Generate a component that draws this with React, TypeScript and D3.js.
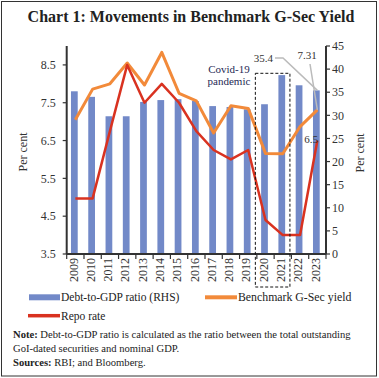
import React from "react";
import * as d3 from "d3";

const years = ["2009","2010","2011","2012","2013","2014","2015","2016","2017","2018","2019","2020","2021","2022","2023"];
const debtToGdp = [35.2, 34.0, 29.8, 29.8, 32.9, 33.3, 33.5, 33.1, 32.0, 31.8, 31.3, 32.4, 38.7, 36.5, 35.4];
const gsecYield = [7.05, 7.86, 8.0, 8.55, 7.97, 8.83, 7.75, 7.55, 6.7, 7.42, 7.35, 6.16, 6.15, 6.87, 7.31];
const repoRate = [4.97, 4.97, 6.75, 8.5, 7.5, 8.0, 7.5, 6.75, 6.25, 6.0, 6.25, 4.4, 4.0, 4.0, 6.5];
const leftTicks = [3.5, 4.5, 5.5, 6.5, 7.5, 8.5];
const rightTicks = [0, 5, 10, 15, 20, 25, 30, 35, 40, 45];

const W = 379, H = 378;
const X0 = 66.7, X1 = 326, YT = 46, YB = 254;
const FONT = "'Liberation Serif', 'Times New Roman', serif";
const BLUE = "#7289c8", ORANGE = "#f28a3a", RED = "#d93220", AX = "#333";

export default function App() {
  const x = d3.scalePoint<string>().domain(years).range([X0, X1]).padding(0.5);
  const step = x.step();
  const yL = d3.scaleLinear().domain([3.5, 9]).range([YB, YT]);
  const yR = d3.scaleLinear().domain([0, 45]).range([YB, YT]);
  const lineL = d3.line<number>().x((_, i) => x(years[i])!).y(d => yL(d));
  const barW = step * 0.39;
  const last = years.length - 1;
  const cxLast = x(years[last])!;
  const bx0 = x("2020")! - step / 2 - 1.5;
  const bx1 = x("2021")! + step / 2 - 1.5;

  return (
    <svg width={W} height={H} style={{ position: "absolute", left: 0, top: 0, background: "#fff" }} fontFamily={FONT}>
      <rect x={1.5} y={1.5} width={375} height={374.5} fill="#fff" stroke={AX} strokeWidth={1} />
      <text x={191} y={22} textAnchor="middle" fontWeight="bold" fontSize={16} fill="#222">Chart 1: Movements in Benchmark G-Sec Yield</text>

      {years.map((yr, i) => (
        <rect key={yr} x={x(yr)! - barW / 2 - 1} y={yR(debtToGdp[i])} width={barW} height={YB - yR(debtToGdp[i])} fill={BLUE} />
      ))}

      <path d={lineL(gsecYield)!} fill="none" stroke={ORANGE} strokeWidth={3} strokeLinejoin="round" />
      <path d={lineL(repoRate)!} fill="none" stroke={RED} strokeWidth={2.5} strokeLinejoin="round" />

      {/* axes */}
      <line x1={X0} x2={X0} y1={YT} y2={YB} stroke={AX} strokeWidth={2} />
      <line x1={X1} x2={X1} y1={YT} y2={YB} stroke={AX} strokeWidth={2} />
      <line x1={X0} x2={X1} y1={YB} y2={YB} stroke={AX} strokeWidth={2} />
      {leftTicks.map(t => (
        <g key={t}>
          <line x1={X0 - 4} x2={X0} y1={yL(t)} y2={yL(t)} stroke={AX} strokeWidth={1.2} />
          <text x={X0 - 11} y={yL(t)} dy="0.35em" textAnchor="end" fontSize={12} fill="#333">{t.toFixed(1)}</text>
        </g>
      ))}
      {rightTicks.map(t => (
        <g key={t}>
          <line x1={X1} x2={X1 + 4} y1={yR(t)} y2={yR(t)} stroke={AX} strokeWidth={1.2} />
          <text x={X1 + 6} y={yR(t)} dy="0.35em" textAnchor="start" fontSize={12} fill="#333">{t}</text>
        </g>
      ))}
      {years.map((yr, i) => (
        <g key={yr}>
          <line x1={x(yr)! - step / 2} x2={x(yr)! - step / 2} y1={YB} y2={YB + 5} stroke={AX} strokeWidth={1.2} />
          {i === last && <line x1={x(yr)! + step / 2} x2={x(yr)! + step / 2} y1={YB} y2={YB + 5} stroke={AX} strokeWidth={1.2} />}
          <text transform={`translate(${x(yr)! - 2},${YB + 4}) rotate(-90)`} dy="0.35em" textAnchor="end" fontSize={12} fill="#333">{yr}</text>
        </g>
      ))}
      <text transform={`translate(23,152) rotate(-90)`} textAnchor="middle" dy="0.35em" fontSize={12} fill="#333">Per cent</text>
      <text transform={`translate(360,153) rotate(-90)`} textAnchor="middle" dy="0.35em" fontSize={12} fill="#333">Per cent</text>

      {/* covid box */}
      <rect x={bx0} y={73.3} width={bx1 - bx0} height={287 - 73.3} fill="none" stroke="#111" strokeWidth={1} strokeDasharray="3,2" />
      <text x={229} y={73} textAnchor="middle" fontSize={11} fill="#1f2a55">Covid-19</text>
      <text x={229} y={85} textAnchor="middle" fontSize={11} fill="#1f2a55">pandemic</text>

      {/* annotations */}
      <polyline points={`275,58 283,58 ${cxLast},${yR(debtToGdp[last])}`} fill="none" stroke="#bbb" strokeWidth={1.5} />
      <polyline points={`310,64 ${cxLast},${yL(gsecYield[last])}`} fill="none" stroke="#bbb" strokeWidth={1.5} />
      <text x={273} y={58} dy="0.35em" textAnchor="end" fontSize={11} fill="#333">{debtToGdp[last].toFixed(1)}</text>
      <text x={307} y={55} dy="0.35em" textAnchor="middle" fontSize={11} fill="#333">{gsecYield[last].toFixed(2)}</text>
      <text x={311} y={139} dy="0.35em" textAnchor="middle" fontSize={11} fill="#333">{repoRate[last].toFixed(1)}</text>

      {/* legend */}
      <line x1={29} x2={60} y1={297.3} y2={297.3} stroke={BLUE} strokeWidth={6} />
      <text x={61} y={301} fontSize={11.5} fill="#222">Debt-to-GDP ratio (RHS)</text>
      <line x1={205} x2={237} y1={297.3} y2={297.3} stroke={ORANGE} strokeWidth={4} />
      <text x={238} y={301} fontSize={11.8} fill="#222">Benchmark G-Sec yield</text>
      <line x1={28} x2={60} y1={315.7} y2={315.7} stroke={RED} strokeWidth={3.5} />
      <text x={61} y={319.5} fontSize={11.5} fill="#222">Repo rate</text>

      {/* notes */}
      <text x={13} y={338} fontSize={10.6} fill="#222"><tspan fontWeight="bold">Note:</tspan> Debt-to-GDP ratio is calculated as the ratio between the total outstanding</text>
      <text x={13} y={352} fontSize={10.6} fill="#222">GoI-dated securities and nominal GDP.</text>
      <text x={13} y={365.5} fontSize={10.6} fill="#222"><tspan fontWeight="bold">Sources:</tspan> RBI; and Bloomberg.</text>
    </svg>
  );
}
